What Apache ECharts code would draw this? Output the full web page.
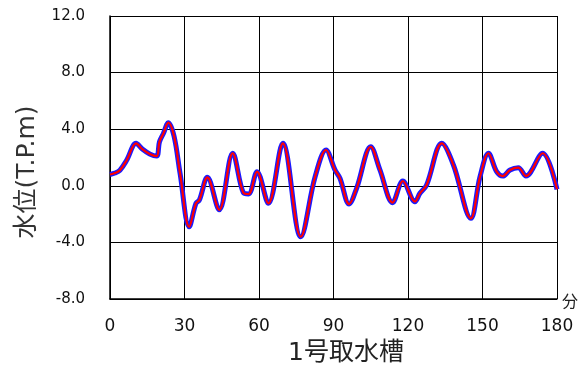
<!DOCTYPE html>
<html>
<head>
<meta charset="utf-8">
<script src="https://cdn.jsdelivr.net/npm/echarts@6/dist/echarts.min.js"></script>
<style>
  html, body { margin: 0; padding: 0; background: #fff; }
  #chart { width: 582px; height: 366px; }
</style>
</head>
<body>
<div id="chart"></div>
<script>
// 時間(分)
var times = [0, 2, 4, 6.7, 10.5, 13, 16, 18.8, 19.9, 21.5, 23.5, 25.8, 28.2, 31.9, 34.6, 36, 39.2, 44, 49.4, 53.7, 55.8, 59.2, 63.8, 69.6, 76.8, 82.6, 87, 90.6, 92.6, 96.3, 99.3, 105, 108.7, 113.8, 117.9, 122.8, 124.8, 127.5, 133.6, 138.3, 145.3, 149, 152.4, 155.7, 158.2, 161.1, 164.4, 167.5, 174.2, 180]
// 水位(T.P.m)
var levels = [0.8, 0.9, 1.1, 1.8, 3.0, 2.6, 2.25, 2.1, 3.1, 3.7, 4.46, 3.5, 0.9, -2.9, -1.24, -1.0, 0.6, -1.7, 2.3, -0.49, -0.58, 1.0, -1.24, 3.0, -3.6, 0.64, 2.53, 1.12, 0.53, -1.29, -0.18, 2.76, 1.12, -1.19, 0.34, -1.12, -0.53, 0.06, 3.0, 1.47, -2.3, 0.64, 2.3, 1.0, 0.69, 1.12, 1.28, 0.69, 2.3, -0.25]
var xTicks = [0, 30, 60, 90, 120, 150, 180]
var yTicks = [-8, -4, 0, 4, 8, 12]

var pts = times.map(function (t, i) { return [t, levels[i]] })

var chart = echarts.init(document.getElementById('chart'))
var font = '"DejaVu Sans", "Noto Sans CJK JP", sans-serif'
var option = {
    animation: false,
    title: {
        text: '1号取水槽',
        left: 341,
        textAlign: 'center',
        top: 336,
        textStyle: { fontFamily: font, fontSize: 25, fontWeight: 'normal', color: '#222' }
    },
    // 縦軸名(位置を下にずらすためgraphicで描く)
    graphic: [{
        type: 'text',
        x: 27,
        y: 172,
        rotation: Math.PI / 2,
        style: {
            text: '水位(T.P.m)',
            font: '25px "DejaVu Sans", "Noto Sans CJK JP", sans-serif',
            fill: '#333',
            align: 'center',
            verticalAlign: 'middle'
        }
    }],
    grid: { left: 110, right: 25, top: 16, bottom: 67 },
    xAxis: {
        type: 'value',
        min: xTicks[0],
        max: xTicks[xTicks.length - 1],
        interval: 30,
        name: '分',
        nameLocation: 'end',
        nameGap: 5,
        nameTextStyle: { fontFamily: '"Noto Sans CJK JP"', fontSize: 16, color: '#222', verticalAlign: 'bottom', padding: [0, 0, -10, 0] },
        axisLine: { onZero: false, lineStyle: { color: '#000', width: 1.5 } },
        axisTick: { show: false },
        axisLabel: { fontFamily: font, fontSize: 17, color: '#111', margin: 19 },
        splitLine: { show: true, lineStyle: { color: '#000', width: 1 } }
    },
    yAxis: {
        type: 'value',
        min: yTicks[0],
        max: yTicks[yTicks.length - 1],
        interval: 4,
        axisLine: { show: true, onZero: false, lineStyle: { color: '#000', width: 1.5 } },
        axisTick: { show: false },
        axisLabel: {
            fontFamily: font, fontSize: 15, color: '#111', margin: 25,
            formatter: function (v) { return v.toFixed(1) }
        },
        splitLine: { show: true, lineStyle: { color: '#000', width: 1 } }
    },
    series: [{
        type: 'line',
        data: pts,
        smooth: 0.35,
        symbol: 'none',
        lineStyle: { color: '#1a1aff', width: 5 }
    }, {
        type: 'line',
        data: pts,
        smooth: 0.35,
        symbol: 'none',
        lineStyle: { color: '#ff0000', width: 2.2 }
    }]
}
chart.setOption(option)
</script>
</body>
</html>
